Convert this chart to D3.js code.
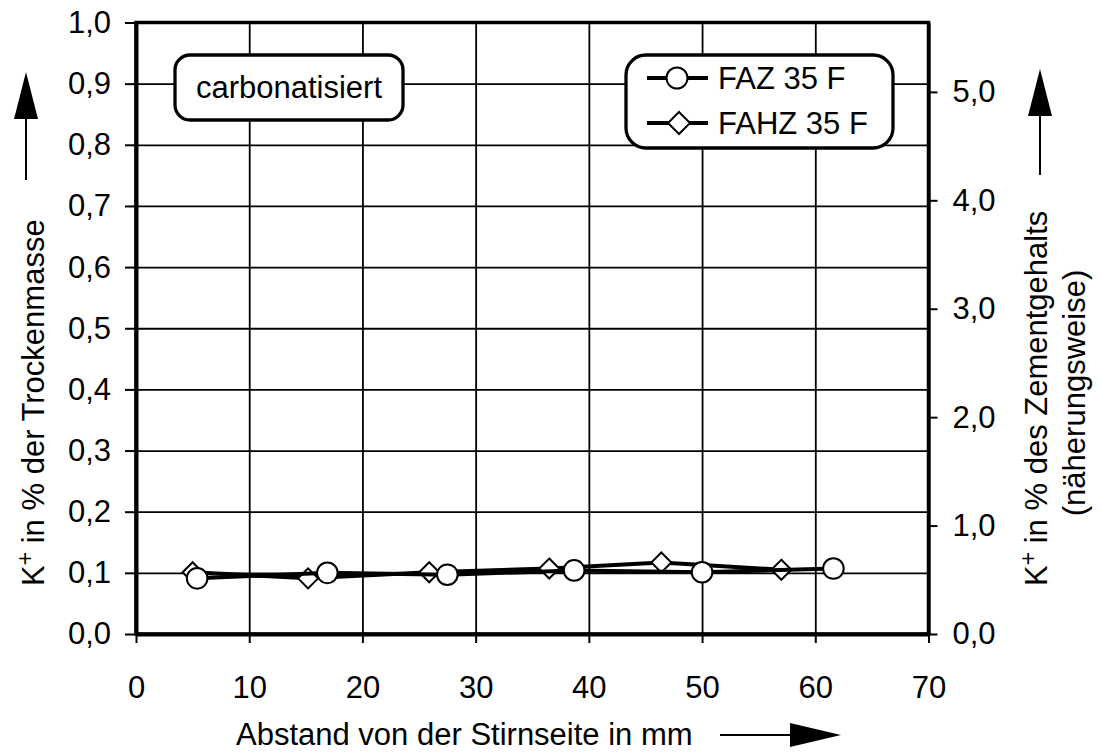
<!DOCTYPE html>
<html><head><meta charset="utf-8">
<script src="https://cdn.jsdelivr.net/npm/d3@7"></script>
<style>
body{margin:0;background:#fff;}
svg text{font-family:"Liberation Sans",Arial,sans-serif;fill:#000;}
</style></head>
<body><svg id="c" width="1101" height="753"></svg>
<script>
// ---- data ----
const fazX = [5.4, 16.9, 27.5, 38.7, 50.0, 61.6];
const fazY = [0.091, 0.100, 0.097, 0.104, 0.101, 0.107];
const fahzX = [5.0, 15.2, 25.9, 36.5, 46.4, 57.0];
const fahzY = [0.101, 0.091, 0.101, 0.107, 0.117, 0.105];
const seriesNames = ["FAZ 35 F", "FAHZ 35 F"];
const xTicks = [0, 10, 20, 30, 40, 50, 60, 70];
const yTicks = [0, 0.1, 0.2, 0.3, 0.4, 0.5, 0.6, 0.7, 0.8, 0.9, 1.0];
const y2Ticks = [0, 1, 2, 3, 4, 5];
const y2Max = 5.64;
const boxLabel = "carbonatisiert";
const xLabel = "Abstand von der Stirnseite in mm";

// ---- layout ----
const L = 136, R = 928.5, T = 22.5, B = 634;
const svg = d3.select("#c");
const x = d3.scaleLinear().domain([0, 70]).range([L, R]);
const y = d3.scaleLinear().domain([0, 1]).range([B, T]);
const y2 = d3.scaleLinear().domain([0, y2Max]).range([B, T]);
const fmt1 = d => d3.format(".1f")(d).replace(".", ",");
const FS = 31;

// gridlines
svg.append("g").attr("transform", `translate(0,${B})`)
  .call(d3.axisBottom(x).tickValues(xTicks.slice(1, -1)).tickSize(-(B - T)).tickFormat(""))
  .call(g => { g.select(".domain").remove(); g.selectAll("line").attr("stroke", "#000").attr("stroke-width", 1.8); });
svg.append("g").attr("transform", `translate(${L},0)`)
  .call(d3.axisLeft(y).tickValues(yTicks.slice(1, -1)).tickSize(-(R - L)).tickFormat(""))
  .call(g => { g.select(".domain").remove(); g.selectAll("line").attr("stroke", "#000").attr("stroke-width", 1.8); });

// frame
svg.append("rect").attr("x", L).attr("y", T).attr("width", R - L).attr("height", B - T)
  .attr("fill", "none").attr("stroke", "#000").attr("stroke-width", 3.5);

// axes
function styleAxis(g, w) {
  g.select(".domain").attr("stroke", "#000").attr("stroke-width", w);
  g.selectAll(".tick line").attr("stroke", "#000").attr("stroke-width", 2);
  g.selectAll("text").style("font-size", FS + "px").attr("fill", "#000");
}
svg.append("g").attr("transform", `translate(${L},0)`)
  .call(d3.axisLeft(y).tickValues(yTicks).tickSize(11).tickSizeOuter(0).tickPadding(14).tickFormat(fmt1))
  .call(g => styleAxis(g, 4));
svg.append("g").attr("transform", `translate(0,${B})`)
  .call(d3.axisBottom(x).tickValues(xTicks).tickSize(9).tickSizeOuter(0).tickPadding(33).tickFormat(d3.format("d")))
  .call(g => styleAxis(g, 4))
  .call(g => g.selectAll("text").attr("dy", "0.71em"));
svg.append("g").attr("transform", `translate(${R},0)`)
  .call(d3.axisRight(y2).tickValues(y2Ticks).tickSize(9).tickSizeOuter(0).tickPadding(15).tickFormat(fmt1))
  .call(g => styleAxis(g, 3.3));

// series
const faz = fazX.map((v, i) => [v, fazY[i]]);
const fahz = fahzX.map((v, i) => [v, fahzY[i]]);
const line = d3.line().x(d => x(d[0])).y(d => y(d[1]));
const diamond = r => `M0,${-r}L${r},0L0,${r}L${-r},0Z`;

svg.append("path").datum(fahz).attr("d", line).attr("fill", "none").attr("stroke", "#000").attr("stroke-width", 4).attr("stroke-linejoin", "round");
svg.append("g").selectAll("path").data(fahz).join("path")
  .attr("transform", d => `translate(${x(d[0])},${y(d[1])})`).attr("d", diamond(10))
  .attr("fill", "#fff").attr("stroke", "#000").attr("stroke-width", 2);
svg.append("path").datum(faz).attr("d", line).attr("fill", "none").attr("stroke", "#000").attr("stroke-width", 4).attr("stroke-linejoin", "round");
svg.append("g").selectAll("circle").data(faz).join("circle")
  .attr("cx", d => x(d[0])).attr("cy", d => y(d[1])).attr("r", 10.3)
  .attr("fill", "#fff").attr("stroke", "#000").attr("stroke-width", 2);

// carbonatisiert box
svg.append("rect").attr("x", 175).attr("y", 55).attr("width", 228).attr("height", 65).attr("rx", 15)
  .attr("fill", "#fff").attr("stroke", "#000").attr("stroke-width", 3.3);
svg.append("text").attr("x", 289).attr("y", 98).attr("text-anchor", "middle").style("font-size", FS + "px").text(boxLabel);

// legend
svg.append("rect").attr("x", 626).attr("y", 55).attr("width", 267).attr("height", 93).attr("rx", 20)
  .attr("fill", "#fff").attr("stroke", "#000").attr("stroke-width", 3.3);
const legY = [78, 123];
seriesNames.forEach((n, i) => {
  svg.append("line").attr("x1", 647).attr("x2", 708).attr("y1", legY[i]).attr("y2", legY[i]).attr("stroke", "#000").attr("stroke-width", 4);
  if (i === 0) svg.append("circle").attr("cx", 677).attr("cy", legY[i]).attr("r", 10.5).attr("fill", "#fff").attr("stroke", "#000").attr("stroke-width", 2);
  else svg.append("path").attr("transform", `translate(679,${legY[i]})`).attr("d", diamond(11)).attr("fill", "#fff").attr("stroke", "#000").attr("stroke-width", 2);
  svg.append("text").attr("x", 718).attr("y", legY[i] + 11).style("font-size", FS + "px").text(n);
});

// axis titles
const lt = svg.append("text").attr("transform", "translate(44,586) rotate(-90)").style("font-size", FS + "px");
lt.append("tspan").text("K");
lt.append("tspan").attr("dy", -11).style("font-size", "23px").text("+");
lt.append("tspan").attr("dy", 11).text(" in % der Trockenmasse");

const rt = svg.append("text").attr("transform", "translate(1047,586) rotate(-90)").style("font-size", FS + "px");
rt.append("tspan").text("K");
rt.append("tspan").attr("dy", -11).style("font-size", "23px").text("+");
rt.append("tspan").attr("dy", 11).text(" in % des Zementgehalts");
svg.append("text").attr("transform", "translate(1085,393) rotate(-90)").attr("text-anchor", "middle").style("font-size", FS + "px").text("(näherungsweise)");

svg.append("text").attr("x", 236).attr("y", 745).style("font-size", FS + "px").text(xLabel);

// arrows
function arrowUp(cx, tip, base, bottom) {
  svg.append("line").attr("x1", cx).attr("x2", cx).attr("y1", base).attr("y2", bottom).attr("stroke", "#000").attr("stroke-width", 2);
  svg.append("path").attr("d", `M${cx},${tip}L${cx + 12},${base}L${cx - 12},${base}Z`).attr("fill", "#000");
}
arrowUp(26, 72, 119, 180);
arrowUp(1040, 69, 116, 175);
svg.append("line").attr("x1", 720).attr("x2", 795).attr("y1", 735).attr("y2", 735).attr("stroke", "#000").attr("stroke-width", 2);
svg.append("path").attr("d", "M841,735L790,723L790,747Z").attr("fill", "#000");
</script></body></html>
